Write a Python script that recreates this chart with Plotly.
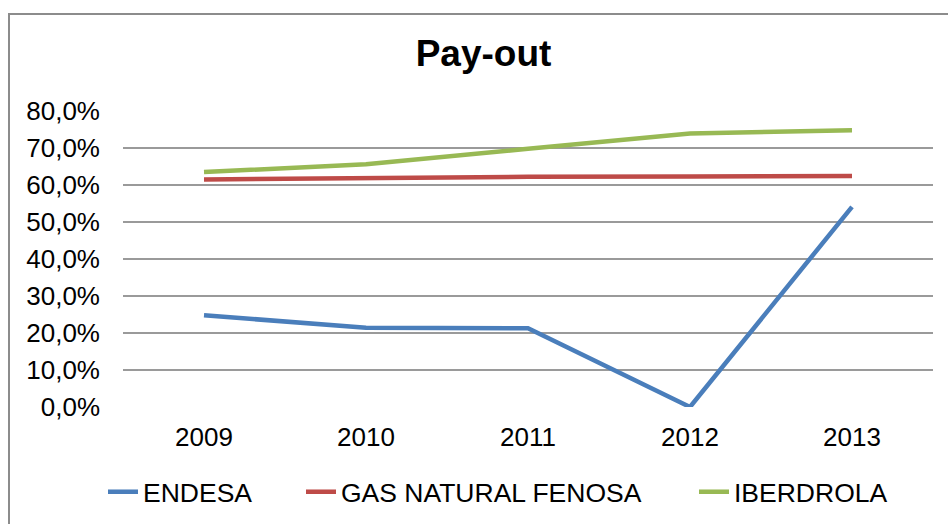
import plotly.graph_objects as go

years = ["2009", "2010", "2011", "2012", "2013"]
endesa = [0.248, 0.214, 0.213, 0.0, 0.541]
gas_natural = [0.615, 0.620, 0.622, 0.623, 0.624]
iberdrola = [0.635, 0.656, 0.698, 0.739, 0.748]
y_ticks = [0, 0.1, 0.2, 0.3, 0.4, 0.5, 0.6, 0.7, 0.8]
y_tick_labels = ["0,0%", "10,0%", "20,0%", "30,0%", "40,0%", "50,0%", "60,0%", "70,0%", "80,0%"]

series = [
    ("ENDESA", endesa, "#4A7EBB"),
    ("GAS NATURAL FENOSA", gas_natural, "#BE4B48"),
    ("IBERDROLA", iberdrola, "#98B954"),
]
legend_left_px = [103, 301, 694]

font_family = "Liberation Sans, Arial, sans-serif"
L, R, T, B = 123, 15, 111, 117
PW, PH = 948 - L - R, 524 - T - B

fig = go.Figure()
legends = {}
for i, (name, vals, color) in enumerate(series):
    lg = "legend" if i == 0 else f"legend{i + 1}"
    fig.add_trace(go.Scatter(x=years, y=vals, name=name, mode="lines",
                             line=dict(color=color, width=4.5), legend=lg))
    legends[lg] = dict(orientation="h", x=(legend_left_px[i] - L) / PW, xanchor="left",
                       y=(407 - 492) / PH, yanchor="middle",
                       font=dict(size=26.5, family=font_family, color="black"),
                       bgcolor="rgba(0,0,0,0)", borderwidth=0)

fig.update_layout(
    width=948, height=524,
    margin=dict(l=L, r=R, t=T, b=B, autoexpand=False),
    paper_bgcolor="white", plot_bgcolor="white",
    font=dict(family=font_family, color="black", size=26),
    title=dict(text="<b>Pay-out</b>", x=0.51, xanchor="center", y=0.898, yanchor="middle",
               font=dict(size=37, family=font_family, color="black")),
    showlegend=True,
    xaxis=dict(type="category", range=[-0.5, 4.5], showgrid=False, zeroline=False,
               showline=False, ticks="", ticklabelstandoff=12, tickfont=dict(size=26),
               automargin=False),
    yaxis=dict(range=[0, 0.8], tickvals=y_ticks, ticktext=y_tick_labels,
               showgrid=True, gridcolor="#9A9A9A", gridwidth=1.5, zeroline=False,
               showline=False, ticks="", ticklabelstandoff=22, tickfont=dict(size=26),
               automargin=False),
    shapes=[dict(type="rect", xref="paper", yref="paper",
                 x0=(9 - L) / PW, x1=1.05, y0=-0.6, y1=(407 - 14) / PH,
                 line=dict(color="#8C8C8C", width=2), fillcolor="rgba(0,0,0,0)",
                 layer="below")],
    **legends,
)

fig.write_html("out.html", config={"displayModeBar": False},
               post_script="document.body.style.margin='0';document.body.style.overflow='hidden';")
